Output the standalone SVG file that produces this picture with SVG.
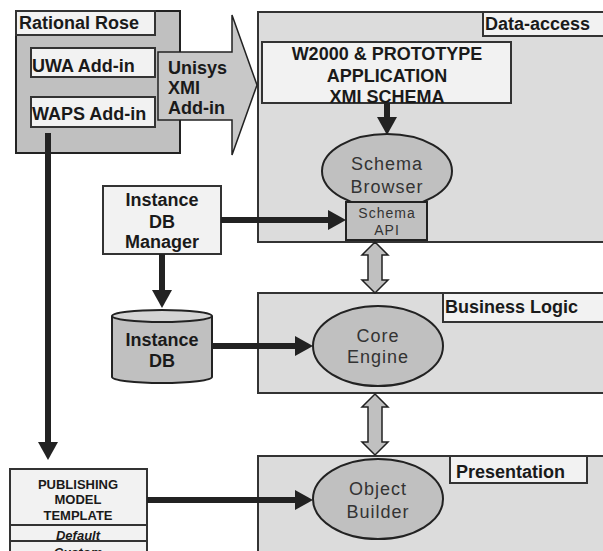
<svg xmlns="http://www.w3.org/2000/svg" width="603" height="551" viewBox="0 0 603 551">
<defs>
<style>
.b{font-family:"Liberation Sans",Arial,sans-serif;font-weight:bold;font-size:18px;fill:#1a1a1a}
.c{text-anchor:middle}
.e{font-family:"Liberation Sans",Arial,sans-serif;font-size:18px;fill:#333;letter-spacing:1px;text-anchor:middle}
.s{font-family:"Liberation Sans",Arial,sans-serif;font-size:14px;fill:#333;letter-spacing:1px;text-anchor:middle}
.p{font-family:"Liberation Sans",Arial,sans-serif;font-weight:bold;font-size:13px;fill:#1a1a1a;text-anchor:middle}
.layer{fill:#dcdcdc;stroke:#333;stroke-width:2}
.lbl{fill:#f2f2f2;stroke:#333;stroke-width:2}
.dk{fill:#c0c0c0;stroke:#222;stroke-width:2}
.ar{stroke:#222;stroke-width:6;fill:none}
.dbl{fill:#c0c0c0;stroke:#222;stroke-width:1.5}
</style>
<marker id="ah" markerUnits="userSpaceOnUse" markerWidth="20" markerHeight="20" viewBox="0 0 18 20" refX="0" refY="10" orient="auto">
<path d="M0,0 L18,10 L0,20 Z" fill="#222"/>
</marker>
</defs>

<g id="rational-rose">
<rect x="16" y="11" width="164" height="142" class="dk"/>
<rect x="16" y="11" width="139" height="24" class="lbl"/>
<text x="19" y="29" class="b">Rational Rose</text>
</g>
<g id="uwa-addin">
<rect x="31" y="48" width="124" height="29" class="lbl"/>
<text x="32" y="72" class="b">UWA Add-in</text>
</g>
<g id="waps-addin">
<rect x="31" y="97" width="124" height="30" class="lbl"/>
<text x="32" y="120" class="b">WAPS Add-in</text>
</g>

<g id="data-access">
<rect x="258" y="12" width="360" height="230" class="layer"/>
<rect x="483" y="12" width="130" height="24" class="lbl"/>
<text x="485" y="30" class="b">Data-access</text>
</g>
<g id="business-logic">
<rect x="258" y="293" width="360" height="100" class="layer"/>
<rect x="443" y="293" width="170" height="29" class="lbl"/>
<text x="445" y="313" class="b">Business Logic</text>
</g>
<g id="presentation">
<rect x="258" y="456" width="360" height="110" class="layer"/>
<rect x="450" y="456" width="137" height="27" class="lbl"/>
<text x="456" y="478" class="b">Presentation</text>
</g>

<g id="unisys-xmi-addin">
<polygon points="158,52 232,52 232,15 257,85 232,155 232,120 158,120" fill="#c8c8c8" stroke="#222" stroke-width="1.5"/>
<text x="168" y="74" class="b">Unisys</text>
<text x="168" y="94" class="b">XMI</text>
<text x="168" y="114" class="b">Add-in</text>
</g>

<g id="xmi-schema">
<rect x="262" y="42" width="249" height="61" class="lbl"/>
<text x="387" y="60" class="b c" font-size="17">W2000 &amp; PROTOTYPE</text>
<text x="387" y="82" class="b c" font-size="17">APPLICATION</text>
<text x="387" y="103" class="b c" font-size="17">XMI SCHEMA</text>
</g>

<g id="schema-browser">
<ellipse cx="387" cy="171" rx="65" ry="37" class="dk"/>
<text x="387" y="170" class="e">Schema</text>
<text x="387" y="193" class="e">Browser</text>
</g>
<g id="schema-api">
<rect x="346" y="202" width="81" height="38" class="dk"/>
<text x="387" y="218" class="s">Schema</text>
<text x="387" y="235" class="s">API</text>
</g>

<g id="instance-db-manager">
<rect x="103" y="186" width="118" height="68" class="lbl"/>
<text x="162" y="206" class="b c">Instance</text>
<text x="162" y="228" class="b c">DB</text>
<text x="162" y="248" class="b c">Manager</text>
</g>

<g id="instance-db">
<path d="M112,316 L112,377 A50,6 0 0 0 212,377 L212,316" class="dk"/>
<ellipse cx="162" cy="316" rx="50" ry="6" fill="#d4d4d4" stroke="#222" stroke-width="2"/>
<text x="162" y="346" class="b c">Instance</text>
<text x="162" y="367" class="b c">DB</text>
</g>

<g id="core-engine">
<ellipse cx="378" cy="346" rx="65" ry="40" class="dk"/>
<text x="378" y="342" class="e">Core</text>
<text x="378" y="363" class="e">Engine</text>
</g>

<g id="object-builder">
<ellipse cx="378" cy="499" rx="65" ry="40" class="dk"/>
<text x="378" y="495" class="e">Object</text>
<text x="378" y="518" class="e">Builder</text>
</g>

<g id="publishing-model-template">
<rect x="10" y="469" width="137" height="56" class="lbl"/>
<rect x="10" y="525" width="137" height="16" class="lbl"/>
<rect x="10" y="541" width="137" height="20" class="lbl"/>
<text x="78" y="489" class="p">PUBLISHING</text>
<text x="78" y="504" class="p">MODEL</text>
<text x="78" y="520" class="p">TEMPLATE</text>
<text x="78" y="540" class="p" font-style="italic">Default</text>
<text x="78" y="557" class="p" font-style="italic">Custom</text>
</g>

<g id="connectors">
<line x1="48" y1="133" x2="48" y2="442" class="ar" marker-end="url(#ah)"/>
<line x1="387" y1="103" x2="387" y2="117" class="ar" marker-end="url(#ah)"/>
<line x1="221" y1="220" x2="328" y2="220" class="ar" marker-end="url(#ah)"/>
<line x1="162" y1="254" x2="162" y2="290" class="ar" marker-end="url(#ah)"/>
<line x1="212" y1="346" x2="295" y2="346" class="ar" marker-end="url(#ah)"/>
<line x1="147" y1="500" x2="295" y2="500" class="ar" marker-end="url(#ah)"/>
<polygon points="375,242 388,255 382,255 382,280 388,280 375,293 362,280 368,280 368,255 362,255" class="dbl"/>
<polygon points="375,394 388,407 382,407 382,442 388,442 375,455 362,442 368,442 368,407 362,407" class="dbl"/>
</g>
</svg>
